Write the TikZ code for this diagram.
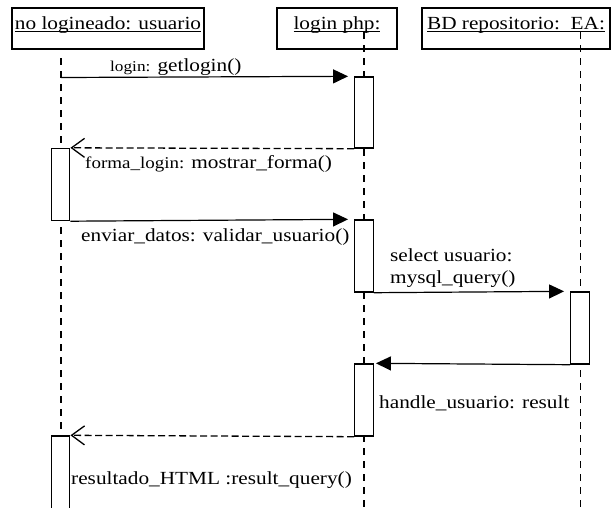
\documentclass[tikz,border=0pt]{standalone}
\usepackage{fontspec}
\setmainfont{Liberation Serif}[FakeStretch=1.15]
\usetikzlibrary{arrows.meta}
% underlined object names: the rule cuts through the descenders
\newcommand\ultext[1]{\setbox0=\hbox{#1}\makebox[0pt][l]{\rule[-3pt]{\wd0}{1pt}}\box0}
\newcommand\bigtxt{\fontsize{18.5}{20}\selectfont}
\newcommand\smalltxt{\fontsize{15}{17}\selectfont}
\newcommand\midtxt{\fontsize{16.5}{18}\selectfont}
\begin{document}
\begin{tikzpicture}[x=1pt,y=-1pt,
  objbox/.style={draw, line width=1.8pt, fill=white, inner sep=0pt,
    minimum height=41pt, text height=10pt, text depth=9pt, font=\bigtxt},
  act/.style={draw, line width=1.4pt, fill=white, minimum width=18.5pt, inner sep=0pt},
  life/.style={line width=1.4pt, dash pattern=on 7pt off 6pt},
  call/.style={line width=1.2pt, -{Triangle[length=15pt,width=14pt]}},
  reply/.style={line width=1.3pt, dash pattern=on 7pt off 3.5pt,
    -{Straight Barb[length=13pt,width=19pt,line width=1.3pt]}},
  lbl/.style={anchor=base west, inner sep=0pt, font=\bigtxt}]

\useasboundingbox (0,0) rectangle (616,507);

% participants
\node[objbox, minimum width=192pt] (usr) at (108,28.5) {\ultext{no logineado: usuario}};
\node[objbox, minimum width=120pt] (php) at (337,28.5) {\ultext{login php:}};
\node[objbox, minimum width=188pt] (db) at (516,28.5) {\ultext{BD repositorio:\ \ EA:}};

% lifelines
\coordinate (usrTop) at (61,58);
\coordinate (usrBot) at (61,507);
\coordinate (phpTop) at (364,32);
\coordinate (phpBot) at (364,507);
\coordinate (dbTop) at (580.5,32);
\coordinate (dbBot) at (580.5,507);
\draw[life] (usrTop) -- (usrBot);
\draw[life] (phpTop) -- (phpBot);
\draw[life] (dbTop) -- (dbBot);

% activation bars
\node[act, minimum height=71pt] (a2a) at (364,112.5) {};
\node[act, minimum height=72pt] (a1a) at (60.5,184.5) {};
\node[act, minimum height=72pt] (a2b) at (364,256) {};
\node[act, minimum height=72pt] (a3)  at (580,328) {};
\node[act, minimum height=72pt] (a2c) at (364,400) {};
\node[act, minimum height=74pt] (a1b) at (60.5,473) {};

% messages
\coordinate (m1) at (61,77.5);
\draw[call, shorten >=6pt] (m1) -- (a2a.north west);
\draw[reply] (a2a.south west) -- (a1a.north east);
\draw[call, shorten >=6pt] (a1a.south east) -- (a2b.north west);
\draw[call, shorten >=6pt] (a2b.south east) -- (a3.north west);
\draw[call, shorten >=2pt] (a3.south west) -- (a2c.north east);
\draw[reply] (a2c.south west) -- (a1b.north east);

% message labels
\node[lbl] (t1) at (110,71) {{\smalltxt login:} getlogin()};
\node[lbl] (t2) at (85,168) {{\midtxt forma\_login:} mostrar\_forma()};
\node[lbl] (t3) at (81,241) {enviar\_datos: validar\_usuario()};
\node[lbl] (t4) at (390,261) {select usuario:};
\node[lbl] (t5) at (390,283) {mysql\_query()};
\node[lbl] (t6) at (379,408) {handle\_usuario: result};
\node[lbl] (t7) at (71,484) {resultado\_HTML :result\_query()};
\end{tikzpicture}
\end{document}
